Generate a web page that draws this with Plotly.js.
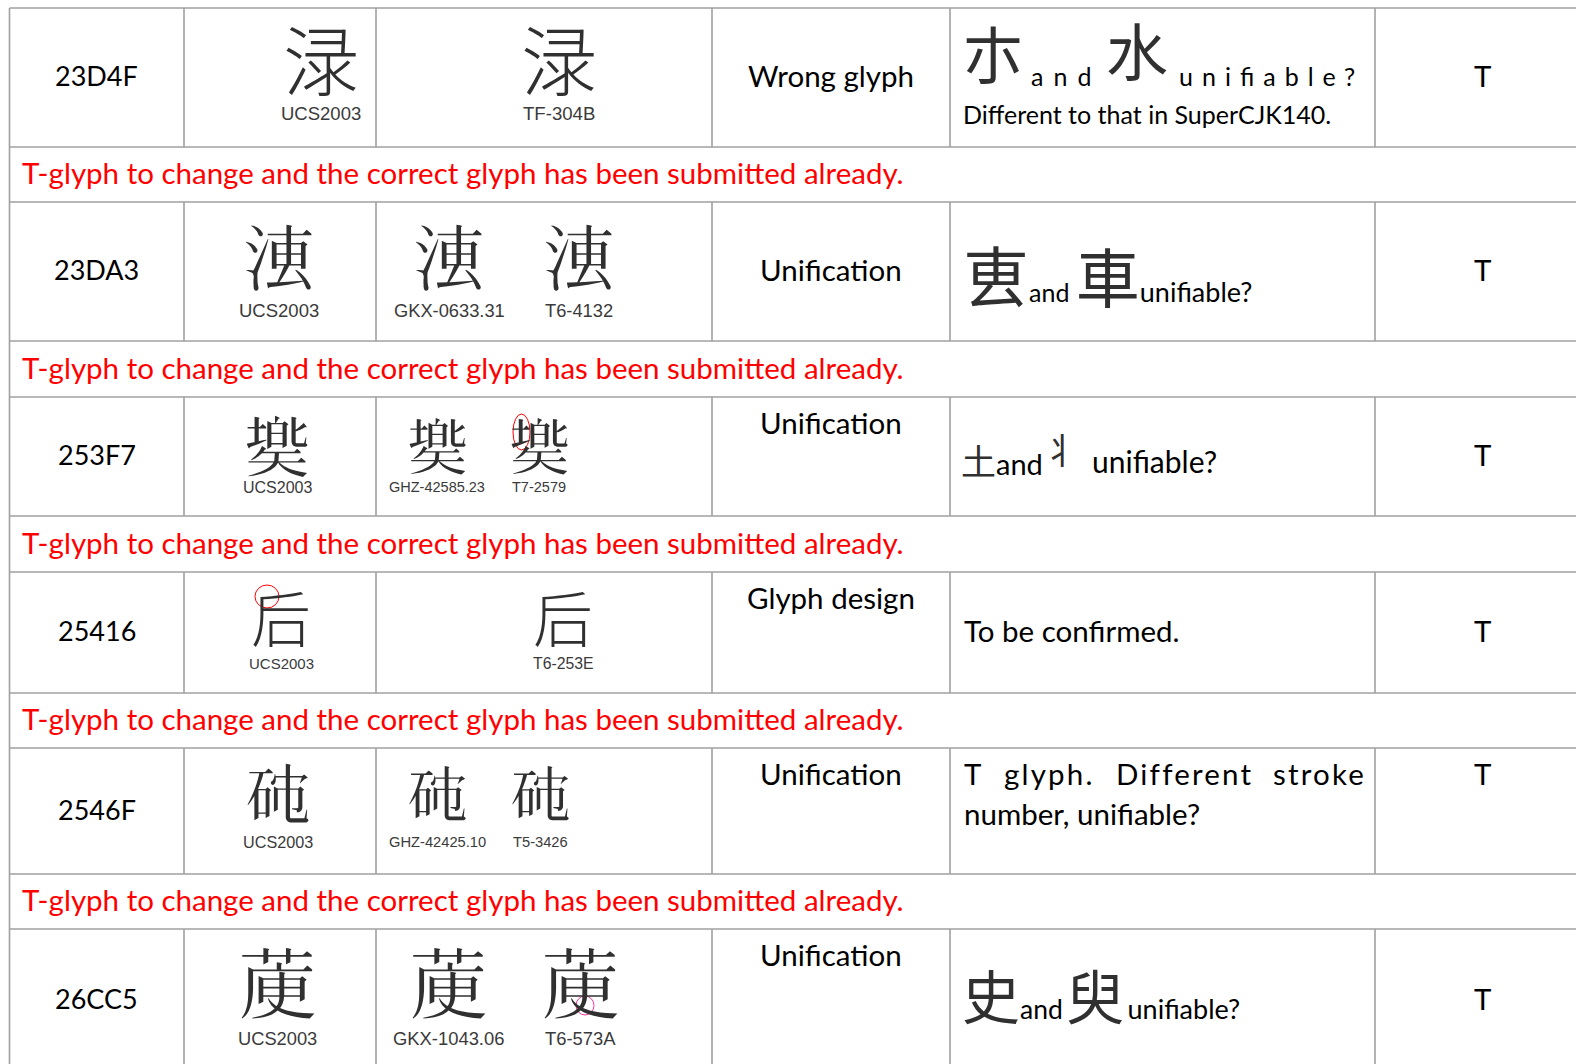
<!DOCTYPE html>
<html><head><meta charset="utf-8">
<script src="https://cdn.plot.ly/plotly-3.0.1.min.js"></script>
<style>html,body{margin:0;padding:0;background:#fff;overflow:hidden}</style>
</head><body><div id="chart" style="width:1576px;height:1064px"></div>
<script>
// ---------- DATA ----------
const codePoints = ['23D4F','23DA3','253F7','25416','2546F','26CC5'];
// look-alike forms for the two code points that no installed font covers
const glyphFallback = {'23D4F':'渌', '25416':'后'};
const ucsSource = 'UCS2003';
const tSources = [['TF-304B'],['GKX-0633.31','T6-4132'],['GHZ-42585.23','T7-2579'],['T6-253E'],['GHZ-42425.10','T5-3426'],['GKX-1043.06','T6-573A']];
const issueTypes = ['Wrong glyph','Unification','Unification','Glyph design','Unification','Unification'];
const compareA = ['朩','叀','土','','','史'];
const compareB = ['水','車','丬','','','臾'];
const compareWord = 'and';
const compareTail = 'unifiable?';
const commentLines = [['Different to that in SuperCJK140.'],[],[],['To be confirmed.'],['T glyph. Different stroke','number, unifiable?'],[]];
const statusCodes = ['T','T','T','T','T','T'];
const followUpNote = 'T-glyph to change and the correct glyph has been submitted already.';

// ---------- LAYOUT ----------
const W = 1576, H = 1064;
const colEdges = [9.5, 184, 376, 712, 950, 1375];
const rowTop = [8, 202, 397, 572, 748, 929];
const rowBot = [147, 341, 516, 693, 874, 1071];
const glyphSize = [76, 74, 66, 60, 66, 76];
const glyphCY = [57, 253, 443, 615, 791, 980];
const labelCY = [113, 310, 487, 663, 842, 1038];
const col2X = [321, 279, 277, 281, 278, 277];
const col3X = [[559], [449, 579], [437, 539], [563], [437, 540], [448, 580]];
const col2LabelSize = [18.5, 18.5, 16, 15, 16.2, 18.3];
const col3LabelSize = [18.6, 18.3, 14.5, 15.8, 14.7, 18.4];
const issueVAlign = ['middle','middle','top','top','top','top'];
const statusVAlign = ['middle','middle','middle','middle','top','middle'];

const cjk = "'Noto Sans CJK TC','Noto Sans CJK SC','Noto Sans CJK JP'";
const latin = "Lato, 'Open Sans', sans-serif";
const narrow = "'Liberation Sans Narrow','Liberation Sans',Arial,sans-serif";
const mainSize = 29.5;
const glyphColor = '#303030';

const ctx = document.createElement('canvas').getContext('2d');
function tw(t, size, fam) { ctx.font = size + 'px ' + fam; return ctx.measureText(t).width; }

const ann = [], shp = [];
function A(o) {
  const base = {xref:'x', yref:'y', showarrow:false, xanchor:'center', yanchor:'middle',
    font:{family:latin, size:mainSize, color:'#000'}};
  if (o.font) o.font = Object.assign({}, base.font, o.font);
  ann.push(Object.assign(base, o));
}
function L(x0, y0, x1, y1) {
  shp.push({type:'line', xref:'x', yref:'y', x0, y0, x1, y1, layer:'below',
    line:{color:'#a0a0a0', width:1.6}});
}
function ligate(t) { return t.replace(/fi/g, '\uFB01'); }
function ls(t, px) { return "<span style=\"letter-spacing:" + px + "px\">" + t + "</span>"; }
function cj(ch, size) { return "<span style=\"font-family:" + cjk + ";font-size:" + size + "px;color:" + glyphColor + "\">" + ch + "</span>"; }
function lt(t, size) { return "<span style=\"font-size:" + size + "px\">" + t + "</span>"; }

// grid
const hLines = [];
rowTop.forEach((t, i) => { hLines.push(t); if (i < rowTop.length - 1) hLines.push(rowBot[i]); });
hLines.forEach(y => L(colEdges[0], y, W, y));
L(colEdges[0], rowTop[0], colEdges[0], H);
rowTop.forEach((t, i) => {
  colEdges.slice(1).forEach(x => L(x, t, x, Math.min(rowBot[i], H)));
});

codePoints.forEach((cp, i) => {
  const mid = (rowTop[i] + rowBot[i]) / 2 - 2;
  const glyph = glyphFallback[cp] || String.fromCodePoint(parseInt(cp, 16));
  A({x:(colEdges[0] + colEdges[1]) / 2, y:mid, text:cp, font:{size:27}});
  A({x:col2X[i], y:glyphCY[i], text:glyph, font:{family:cjk, size:glyphSize[i], color:glyphColor, weight:300}});
  A({x:col2X[i], y:labelCY[i], text:ucsSource, font:{family:narrow, size:col2LabelSize[i], color:'#3a3a3a'}});
  tSources[i].forEach((src, k) => {
    A({x:col3X[i][k], y:glyphCY[i], text:glyph, font:{family:cjk, size:glyphSize[i] - (tSources[i].length > 1 && i % 2 === 0 ? 5 : 0), color:glyphColor, weight:300}});
    A({x:col3X[i][k], y:labelCY[i], text:src, font:{family:narrow, size:col3LabelSize[i], color:'#3a3a3a'}});
  });
  A({x:(colEdges[3] + colEdges[4]) / 2, y: issueVAlign[i] === 'middle' ? mid : rowTop[i] + 25, text:issueTypes[i]});
  A({x:(colEdges[5] + 1590) / 2, y: statusVAlign[i] === 'middle' ? mid : rowTop[i] + 25, text:statusCodes[i]});
  if (i < codePoints.length - 1) {
    A({x:20, xanchor:'left', y:(rowBot[i] + rowTop[i + 1]) / 2 - 2, text:followUpNote, font:{color:'#ff0000'}});
  }
});

// comments column
const cx = colEdges[4] + 12;
// row 1
A({x:993, y:52, text:compareA[0], font:{family:cjk, size:62, color:glyphColor}});
A({x:1029, xanchor:'left', y:76, text:ls(compareWord, 10), font:{size:25}});
A({x:1137, y:49, text:compareB[0], font:{family:cjk, size:62, color:glyphColor}});
A({x:1177, xanchor:'left', y:76, text:ls(ligate(compareTail), 9), font:{size:25}});
A({x:cx - 1, xanchor:'left', y:114, text:commentLines[0][0], font:{size:25}});
// row 2
A({x:cx - 1, xanchor:'left', y:273, align:'left',
  text: cj(compareA[1], 66) + lt(compareWord + ' ', 25) + cj(compareB[1], 64) + lt(compareTail, 27)});
// row 3
A({x:cx - 3, xanchor:'left', y:459, align:'left', text: cj(compareA[2], 35) + lt(compareWord, 29)});
A({x:1061, y:448, text:compareB[2], font:{family:cjk, size:36, color:glyphColor}});
A({x:1090, xanchor:'left', y:461, text:compareTail, font:{size:30}});
// row 4
A({x:cx, xanchor:'left', y:630, text:commentLines[3][0]});
// row 5: justified first line, slightly letter-spaced
(function () {
  const x0 = cx, x1 = colEdges[5] - 11, sp = 2.2;
  const words = commentLines[4][0].split(' ');
  const ws = words.map(w => tw(w, mainSize, latin) + sp * w.length);
  const gap = (x1 - x0 - ws.reduce((a, b) => a + b, 0)) / (words.length - 1);
  let x = x0;
  words.forEach((w, k) => { A({x:x, xanchor:'left', y:rowTop[4] + 25, text:ls(w, sp)}); x += ws[k] + gap; });
  A({x:x0, xanchor:'left', y:rowTop[4] + 65, text:commentLines[4][1]});
})();
// row 6
A({x:cx - 2, xanchor:'left', y:994, align:'left',
  text: cj(compareA[5], 58) + lt(compareWord + '\u2009', 26.5) + cj(compareB[5], 58) + lt('\u2009' + compareTail, 27)});

// review marks drawn on the glyph images
shp.push({type:'circle', xref:'x', yref:'y', x0:513, x1:530, y0:414, y1:450, line:{color:'#ff0000', width:1}});
shp.push({type:'circle', xref:'x', yref:'y', x0:255, x1:279, y0:585, y1:608, line:{color:'#ff0000', width:1}});
shp.push({type:'circle', xref:'x', yref:'y', x0:576, x1:594, y0:996, y1:1015, line:{color:'#ff3399', width:1}});

const trace = {x:[0, W], y:[0, H], mode:'markers', marker:{opacity:0}, hoverinfo:'skip', showlegend:false};
Plotly.newPlot('chart', [trace], {
  width:W, height:H, margin:{l:0, r:0, t:0, b:0},
  paper_bgcolor:'#fff', plot_bgcolor:'#fff',
  xaxis:{range:[0, W], visible:false, fixedrange:true},
  yaxis:{range:[H, 0], visible:false, fixedrange:true},
  annotations:ann, shapes:shp, showlegend:false
}, {staticPlot:true});
</script></body></html>
